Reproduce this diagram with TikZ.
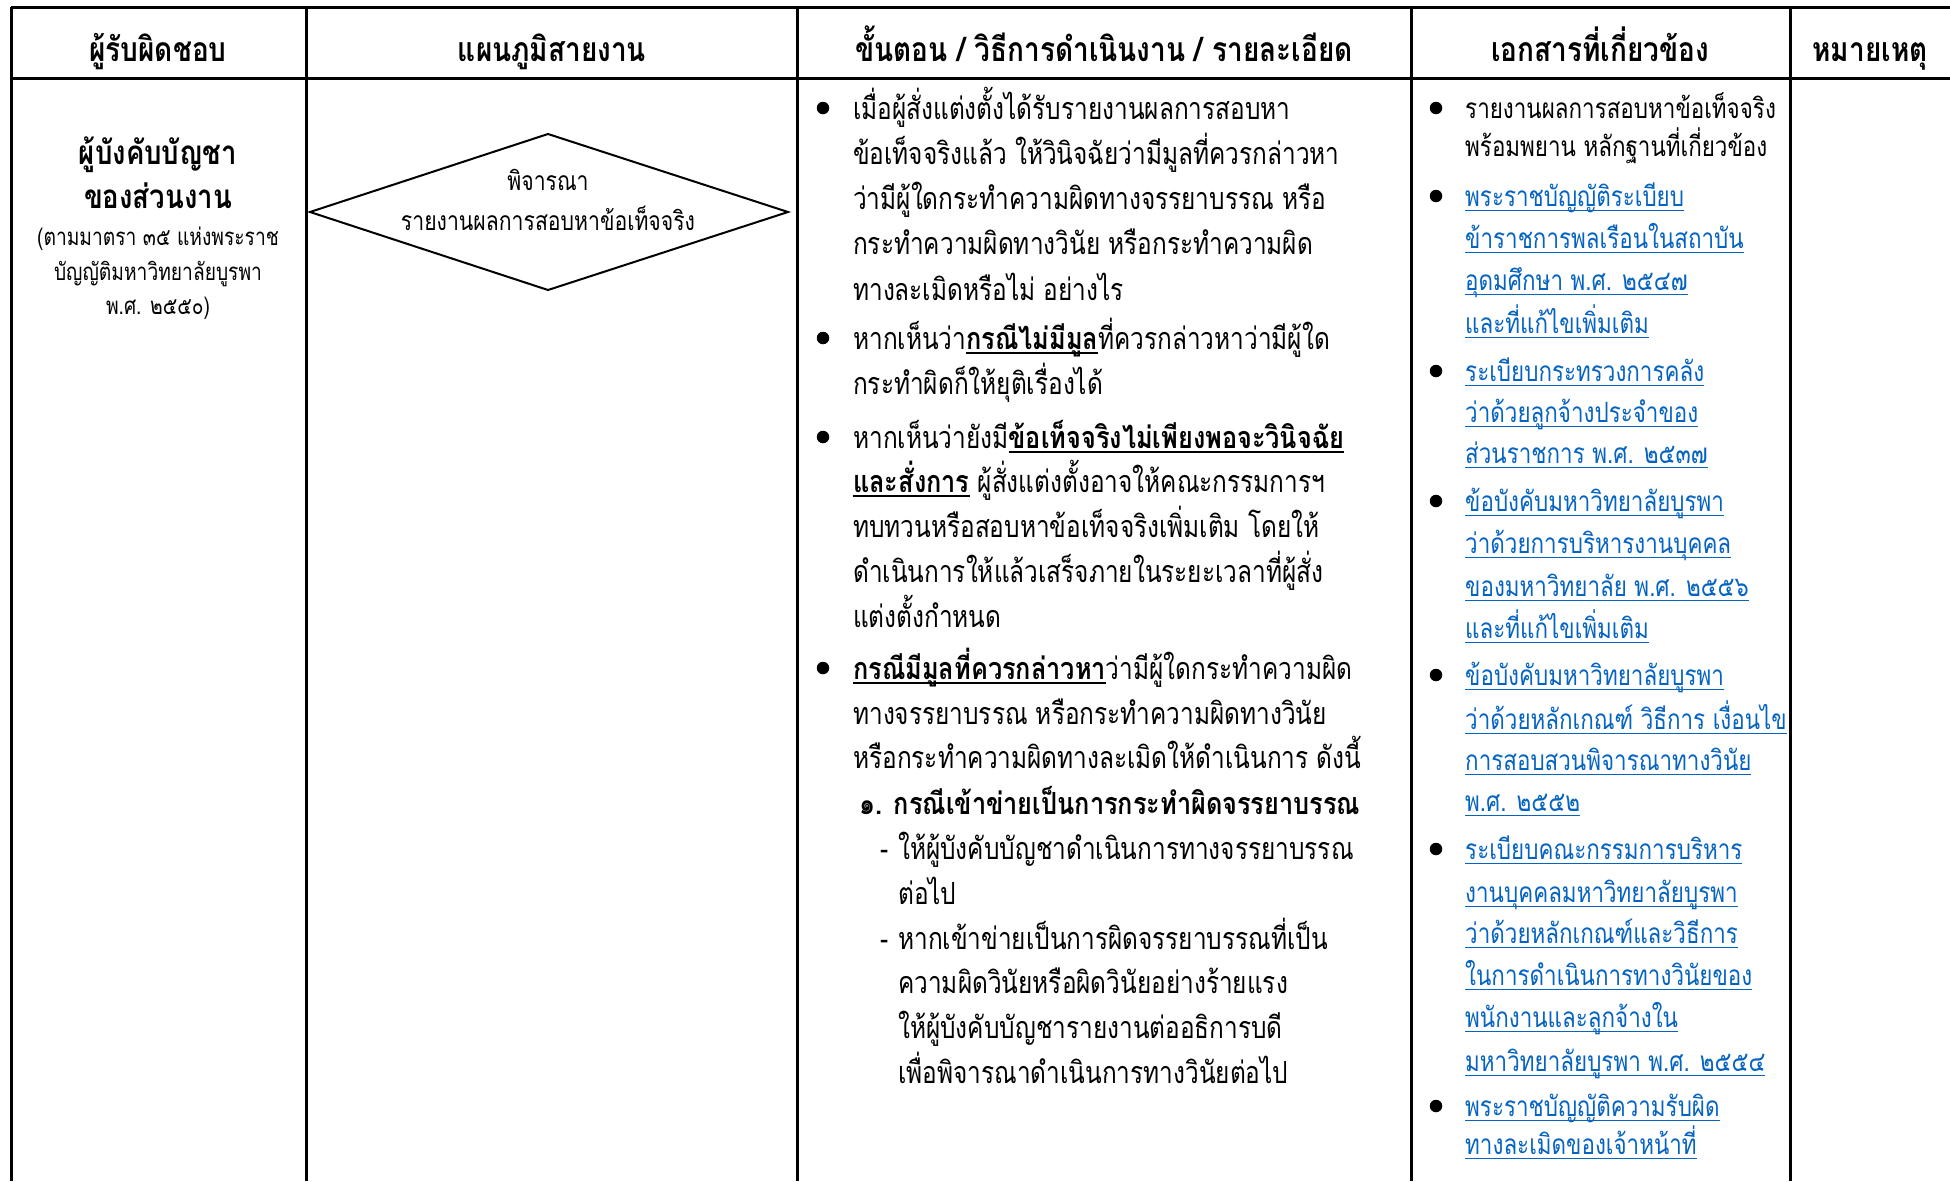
\documentclass[tikz,border=0pt]{standalone}
\usepackage{fontspec}
\newfontfamily\thai[Script=Thai,FakeStretch=0.8,BoldFeatures={FakeStretch=0.83}]{Loma}
\definecolor{linkblue}{HTML}{0563C1}
\newcommand{\ulx}[1]{\setbox0\hbox{#1}\rlap{\rule[-5pt]{\wd0}{1.6pt}}\box0\relax}
\newcommand{\ulb}[1]{\setbox0\hbox{#1}\rlap{\rule[-5pt]{\wd0}{1.4pt}}\box0\relax}
\tikzset{
  grid/.style={line width=3pt, black},
  hdr/.style={anchor=base, inner sep=0pt, font=\thai\fontsize{33.7}{36}\selectfont\bfseries},
  bodyl/.style={anchor=base west, inner sep=0pt, font=\thai\fontsize{30.5}{33}\selectfont},
  docl/.style={anchor=base west, inner sep=0pt, text=linkblue, font=\thai\fontsize{28}{30}\selectfont},
  docp/.style={anchor=base west, inner sep=0pt, font=\thai\fontsize{28}{30}\selectfont},
  resp/.style={anchor=base, inner sep=0pt, font=\thai\fontsize{33.2}{36}\selectfont\bfseries},
  resps/.style={anchor=base, inner sep=0pt, font=\thai\fontsize{24}{27}\selectfont},
  dtext/.style={anchor=base, inner sep=0pt, font=\thai\fontsize{26.5}{29}\selectfont},
  dec/.style={draw, line width=2pt, black},
  blt/.style={circle, fill=black, inner sep=0pt, minimum size=12.5pt}
}
\begin{document}
\begin{tikzpicture}[x=1pt,y=-1pt]
\useasboundingbox (0,0) rectangle (1950,1181);
% grid
\draw[grid] (11,7) -- (1950,7);
\draw[grid] (11,78) -- (1950,78);
\draw[grid] (11,7) -- (11,1181);
\draw[grid] (306,7) -- (306,1181);
\draw[grid] (797,7) -- (797,1181);
\draw[grid] (1411,7) -- (1411,1181);
\draw[grid] (1790,7) -- (1790,1181);
% headers
\node[hdr] (h1) at (158,61) {ผู้รับผิดชอบ};
\node[hdr] (h2) at (552,61) {แผนภูมิสายงาน};
\node[hdr] (h3) at (1104,61) {ขั้นตอน / วิธีการดำเนินงาน / รายละเอียด};
\node[hdr] (h4) at (1600,61) {เอกสารที่เกี่ยวข้อง};
\node[hdr] (h5) at (1870,61) {หมายเหตุ};
% column 1
\node[resp] (r1) at (158,164) {ผู้บังคับบัญชา};
\node[resp] (r2) at (158,208) {ของส่วนงาน};
\node[resps] (r3) at (158,245) {(ตามมาตรา ๓๕ แห่งพระราช};
\node[resps] (r4) at (158,280) {บัญญัติมหาวิทยาลัยบูรพา};
\node[resps] (r5) at (158,314) {พ.ศ. ๒๕๕๐)};
% diamond
\coordinate (dl) at (310,212);
\coordinate (dt) at (548,134);
\coordinate (dr) at (788,212);
\coordinate (db) at (548,290);
\draw[dec, line join=miter] (dl) -- (dt) -- (dr) -- (db) -- cycle;
\node[dtext] (d1) at (548,190) {พิจารณา};
\node[dtext] (d2) at (548,230) {รายงานผลการสอบหาข้อเท็จจริง};
% column 3
\node[blt] (b1) at (823,108) {};
\node[blt] (b2) at (823,338) {};
\node[blt] (b3) at (823,437) {};
\node[blt] (b4) at (823,668) {};
\node[bodyl] (c1) at (853,119) {เมื่อผู้สั่งแต่งตั้งได้รับรายงานผลการสอบหา};
\node[bodyl] (c2) at (853,164) {ข้อเท็จจริงแล้ว ให้วินิจฉัยว่ามีมูลที่ควรกล่าวหา};
\node[bodyl] (c3) at (853,209) {ว่ามีผู้ใดกระทำความผิดทางจรรยาบรรณ หรือ};
\node[bodyl] (c4) at (853,254) {กระทำความผิดทางวินัย หรือกระทำความผิด};
\node[bodyl] (c5) at (853,300) {ทางละเมิดหรือไม่ อย่างไร};
\node[bodyl] (c6) at (853,349) {หากเห็นว่า\ulx{\bfseries กรณีไม่มีมูล}ที่ควรกล่าวหาว่ามีผู้ใด};
\node[bodyl] (c7) at (853,394) {กระทำผิดก็ให้ยุติเรื่องได้};
\node[bodyl] (c8) at (853,448) {หากเห็นว่ายังมี\ulx{\bfseries ข้อเท็จจริงไม่เพียงพอจะวินิจฉัย}};
\node[bodyl] (c9) at (853,492) {\ulx{\bfseries และสั่งการ} ผู้สั่งแต่งตั้งอาจให้คณะกรรมการฯ};
\node[bodyl] (c10) at (853,537) {ทบทวนหรือสอบหาข้อเท็จจริงเพิ่มเติม โดยให้};
\node[bodyl] (c11) at (853,582) {ดำเนินการให้แล้วเสร็จภายในระยะเวลาที่ผู้สั่ง};
\node[bodyl] (c12) at (853,627) {แต่งตั้งกำหนด};
\node[bodyl] (c13) at (853,679) {\ulx{\bfseries กรณีมีมูลที่ควรกล่าวหา}ว่ามีผู้ใดกระทำความผิด};
\node[bodyl] (c14) at (853,724) {ทางจรรยาบรรณ หรือกระทำความผิดทางวินัย};
\node[bodyl] (c15) at (853,768) {หรือกระทำความผิดทางละเมิดให้ดำเนินการ ดังนี้};
\node[bodyl, font=\thai\fontsize{30.5}{33}\selectfont\bfseries] (c16) at (859,814) {๑. กรณีเข้าข่ายเป็นการกระทำผิดจรรยาบรรณ};
\node[bodyl] (c17a) at (880,859) {-};
\node[bodyl] (c17) at (898,859) {ให้ผู้บังคับบัญชาดำเนินการทางจรรยาบรรณ};
\node[bodyl] (c18) at (898,904) {ต่อไป};
\node[bodyl] (c19a) at (880,949) {-};
\node[bodyl] (c19) at (898,949) {หากเข้าข่ายเป็นการผิดจรรยาบรรณที่เป็น};
\node[bodyl] (c20) at (898,993) {ความผิดวินัยหรือผิดวินัยอย่างร้ายแรง};
\node[bodyl] (c21) at (898,1038) {ให้ผู้บังคับบัญชารายงานต่ออธิการบดี};
\node[bodyl] (c22) at (898,1083) {เพื่อพิจารณาดำเนินการทางวินัยต่อไป};
% column 4
\node[blt] (e1) at (1436,108) {};
\node[blt] (e2) at (1436,196) {};
\node[blt] (e3) at (1436,371) {};
\node[blt] (e4) at (1436,501) {};
\node[blt] (e5) at (1436,675) {};
\node[blt] (e6) at (1436,849) {};
\node[blt] (e7) at (1436,1106) {};
\node[docp] (f1) at (1465,118) {รายงานผลการสอบหาข้อเท็จจริง};
\node[docp] (f2) at (1465,156) {พร้อมพยาน หลักฐานที่เกี่ยวข้อง};
\node[docl] (f3) at (1465,206) {\ulb{พระราชบัญญัติระเบียบ}};
\node[docl] (f4) at (1465,248) {\ulb{ข้าราชการพลเรือนในสถาบัน}};
\node[docl] (f5) at (1465,290) {\ulb{อุดมศึกษา พ.ศ. ๒๕๔๗}};
\node[docl] (f6) at (1465,333) {\ulb{และที่แก้ไขเพิ่มเติม}};
\node[docl] (f7) at (1465,381) {\ulb{ระเบียบกระทรวงการคลัง}};
\node[docl] (f8) at (1465,422) {\ulb{ว่าด้วยลูกจ้างประจำของ}};
\node[docl] (f9) at (1465,463) {\ulb{ส่วนราชการ พ.ศ. ๒๕๓๗}};
\node[docl] (f10) at (1465,511) {\ulb{ข้อบังคับมหาวิทยาลัยบูรพา}};
\node[docl] (f11) at (1465,553) {\ulb{ว่าด้วยการบริหารงานบุคคล}};
\node[docl] (f12) at (1465,596) {\ulb{ของมหาวิทยาลัย พ.ศ. ๒๕๕๖}};
\node[docl] (f13) at (1465,638) {\ulb{และที่แก้ไขเพิ่มเติม}};
\node[docl] (f14) at (1465,685) {\ulb{ข้อบังคับมหาวิทยาลัยบูรพา}};
\node[docl] (f15) at (1465,729) {\ulb{ว่าด้วยหลักเกณฑ์ วิธีการ เงื่อนไข}};
\node[docl] (f16) at (1465,770) {\ulb{การสอบสวนพิจารณาทางวินัย}};
\node[docl] (f17) at (1465,811) {\ulb{พ.ศ. ๒๕๕๒}};
\node[docl] (f18) at (1465,859) {\ulb{ระเบียบคณะกรรมการบริหาร}};
\node[docl] (f19) at (1465,902) {\ulb{งานบุคคลมหาวิทยาลัยบูรพา}};
\node[docl] (f20) at (1465,943) {\ulb{ว่าด้วยหลักเกณฑ์และวิธีการ}};
\node[docl] (f21) at (1465,985) {\ulb{ในการดำเนินการทางวินัยของ}};
\node[docl] (f22) at (1465,1027) {\ulb{พนักงานและลูกจ้างใน}};
\node[docl] (f23) at (1465,1071) {\ulb{มหาวิทยาลัยบูรพา พ.ศ. ๒๕๕๔}};
\node[docl] (f24) at (1465,1116) {\ulb{พระราชบัญญัติความรับผิด}};
\node[docl] (f25) at (1465,1154) {\ulb{ทางละเมิดของเจ้าหน้าที่}};
\end{tikzpicture}
\end{document}
